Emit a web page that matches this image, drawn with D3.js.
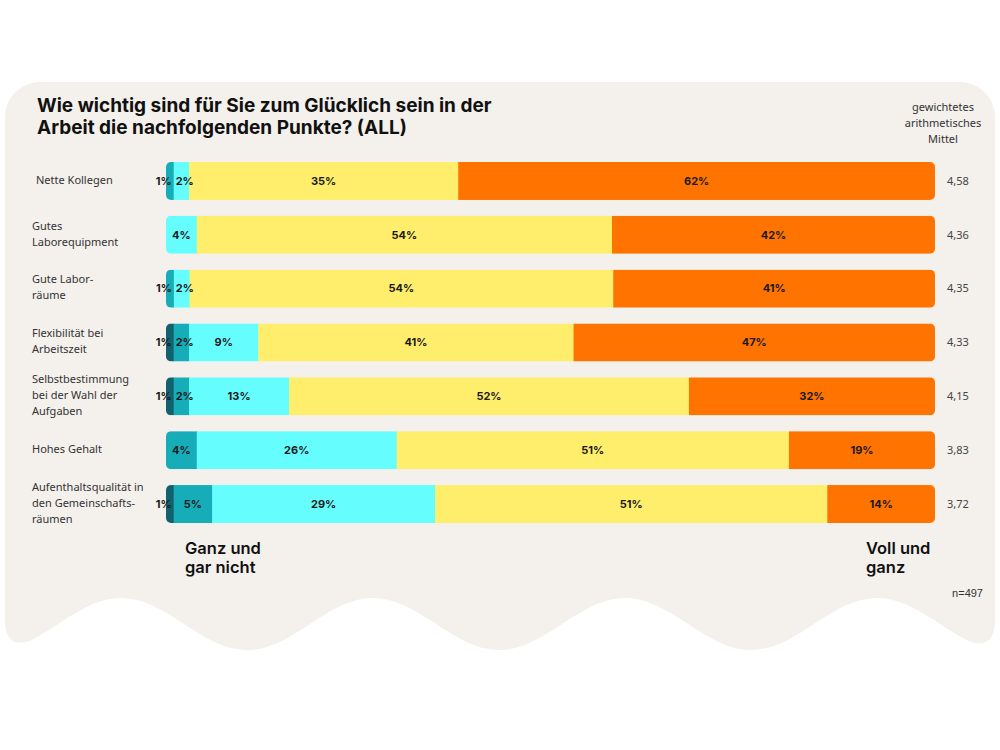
<!DOCTYPE html>
<html>
<head>
<meta charset="utf-8">
<script src="https://cdn.jsdelivr.net/npm/d3@7.9.0/dist/d3.min.js"></script>
<style>
  body { margin: 0; background: #ffffff; }
  svg { display: block; }
</style>
</head>
<body>
<svg id="chart" width="1000" height="750"></svg>
<script>
// Data
const categories = [
  'Nette Kollegen',
  'Gutes\nLaborequipment',
  'Gute Labor-\nräume',
  'Flexibilität bei\nArbeitszeit',
  'Selbstbestimmung\nbei der Wahl der\nAufgaben',
  'Hohes Gehalt',
  'Aufenthaltsqualität in\nden Gemeinschafts-\nräumen'
];
// one array per answer level, from "Ganz und gar nicht" to "Voll und ganz"
const level1 = [0, 0, 0, 1, 1, 0, 1];
const level2 = [1, 0, 1, 2, 2, 4, 5];
const level3 = [2, 4, 2, 9, 13, 26, 29];
const level4 = [35, 54, 54, 41, 52, 51, 51];
const level5 = [62, 42, 41, 47, 32, 19, 14];
const means = ['4,58', '4,36', '4,35', '4,33', '4,15', '3,83', '3,72'];
const levelColors = ['#11616f', '#17adb8', '#66fdff', '#ffee6b', '#ff7300'];

const svg = d3.select('#chart');

// Background panel with wavy bottom
const waveY = (x) => 624 - 26 * Math.cos(2 * Math.PI * (x - 121) / 252);
let wavePts = d3.range(970, 29, -5).map((x) => [x, waveY(x)]);
let panelPath = `M5,117 A35,35 0 0 1 40,82 H960 A35,35 0 0 1 995,117 V620 ` +
  `Q995,${waveY(995)} 970,${waveY(970)} ` +
  wavePts.map((p) => `L${p[0]},${p[1]}`).join(' ') +
  ` L30,${waveY(30)} Q5,${waveY(5)} 5,620 Z`;
svg.append('path').attr('d', panelPath).attr('fill', '#f4f0ec');

// Title
const title = svg.append('text')
  .attr('x', 37).attr('y', 112)
  .attr('font-family', 'Inter, sans-serif')
  .attr('font-weight', 700)
  .attr('font-size', 19)
  .attr('fill', '#111');
title.append('tspan').attr('x', 37).text('Wie wichtig sind für Sie zum Glücklich sein in der');
title.append('tspan').attr('x', 37).attr('dy', 22).text('Arbeit die nachfolgenden Punkte? (ALL)');

// Header for means
const head = svg.append('text')
  .attr('x', 943).attr('y', 111)
  .attr('text-anchor', 'middle')
  .attr('font-family', '"Noto Sans", sans-serif')
  .attr('font-size', 11)
  .attr('fill', '#333');
['gewichtetes', 'arithmetisches', 'Mittel'].forEach((t, i) => {
  head.append('tspan').attr('x', 943).attr('dy', i === 0 ? 0 : 16).text(t);
});

// Scales
const y = d3.scaleBand()
  .domain(categories)
  .range([154, 531])
  .paddingInner(0.294)
  .paddingOuter(0.147);

const levels = [level1, level2, level3, level4, level5];

categories.forEach((cat, i) => {
  const vals = levels.map((arr) => arr[i]);
  const total = d3.sum(vals);
  const x = d3.scaleLinear().domain([0, total]).range([166, 935]);
  const top = y(cat);
  const h = y.bandwidth();
  const cy = top + h / 2;

  // clip for rounded bar ends
  svg.append('clipPath').attr('id', 'clip' + i)
    .append('rect')
    .attr('x', x(0)).attr('y', top)
    .attr('width', x(total) - x(0)).attr('height', h)
    .attr('rx', 5);

  const g = svg.append('g');
  const bars = g.append('g').attr('clip-path', `url(#clip${i})`);

  let acc = 0;
  let prevRight = -Infinity;
  vals.forEach((v, j) => {
    if (v > 0) {
      const x0 = x(acc), x1 = x(acc + v);
      bars.append('rect')
        .attr('x', x0).attr('y', top)
        .attr('width', x1 - x0 + 0.5)
        .attr('height', h)
        .attr('fill', levelColors[j]);

      const lbl = g.append('text')
        .attr('y', cy)
        .attr('dy', '0.35em')
        .attr('text-anchor', 'start')
        .attr('font-family', 'Inter, sans-serif')
        .attr('font-weight', 700)
        .attr('font-size', 11)
        .attr('fill', '#1a1a1a')
        .text(v + '%');
      const w = lbl.node().getComputedTextLength();
      // tiny segments: label ends just inside the segment's right edge
      let left = v <= 1 ? x1 - 2 - w : (x0 + x1) / 2 - w / 2;
      if (left < prevRight + 4) left = prevRight + 4;
      lbl.attr('x', left);
      prevRight = left + w;
    }
    acc += v;
  });

  // category label
  const lines = cat.split('\n');
  const lab = svg.append('text')
    .attr('font-family', '"Noto Sans", sans-serif')
    .attr('font-size', 11)
    .attr('fill', '#333');
  lines.forEach((t, k) => {
    lab.append('tspan')
      .attr('x', i === 0 ? 36 : 32)
      .attr('y', cy - 1 + (k - (lines.length - 1) / 2) * 16)
      .attr('dy', '0.35em')
      .text(t);
  });

  // mean
  svg.append('text')
    .attr('x', 947).attr('y', cy).attr('dy', '0.35em')
    .attr('font-family', '"Noto Sans", sans-serif')
    .attr('font-size', 11)
    .attr('fill', '#444')
    .text(means[i]);
});

// End labels
const endLabel = (xPos, linesArr) => {
  const t = svg.append('text')
    .attr('font-family', 'Inter, sans-serif')
    .attr('font-weight', 600)
    .attr('font-size', 16.5)
    .attr('fill', '#111');
  linesArr.forEach((s, k) => {
    t.append('tspan').attr('x', xPos).attr('y', 554 + k * 19).text(s);
  });
};
endLabel(185, ['Ganz und', 'gar nicht']);
endLabel(866, ['Voll und', 'ganz']);

svg.append('text')
  .attr('x', 983).attr('y', 597)
  .attr('text-anchor', 'end')
  .attr('font-family', '"Liberation Sans Narrow", "Liberation Sans", sans-serif')
  .attr('font-size', 11)
  .attr('fill', '#333')
  .text('n=497');
</script>
</body>
</html>
